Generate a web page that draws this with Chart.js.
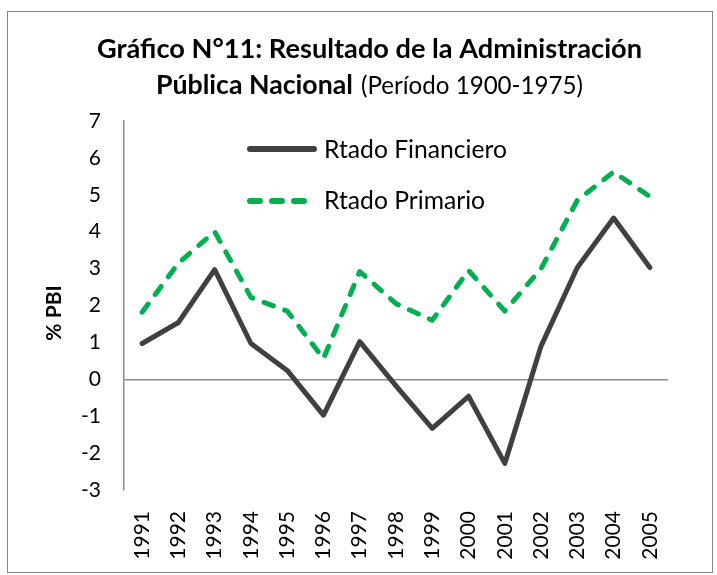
<!DOCTYPE html>
<html>
<head>
<meta charset="utf-8">
<script src="https://cdn.jsdelivr.net/npm/chart.js@4/dist/chart.umd.min.js"></script>
<style>
  html, body { margin: 0; padding: 0; background: #ffffff; }
  #wrap { width: 717px; height: 575px; position: relative; }
</style>
</head>
<body>
<div id="wrap"><canvas id="c" width="717" height="575"></canvas></div>
<script>
const years = ['1991','1992','1993','1994','1995','1996','1997','1998','1999','2000','2001','2002','2003','2004','2005'];
const financiero = [0.97, 1.54, 2.97, 0.97, 0.24, -0.97, 1.02, -0.18, -1.33, -0.46, -2.28, 0.9, 3.03, 4.37, 3.03];
const primario = [1.82, 3.15, 4.0, 2.22, 1.85, 0.56, 2.92, 2.05, 1.6, 2.95, 1.85, 3.0, 4.85, 5.62, 4.95];
const yMin = -3, yMax = 7, yStep = 1;
const titleLine1 = 'Gráfico N°11: Resultado de la Administración';
const titleLine2Bold = 'Pública Nacional';
const titleLine2Reg = '(Período 1900-1975)';
const yTitle = '% PBI';
const seriesNames = ['Rtado Financiero', 'Rtado Primario'];

const FAM = 'Lato, "Open Sans", sans-serif';

function fitSize(ctx, text, weight, target) {
  ctx.font = weight + ' 100px ' + FAM;
  return 100 * target / ctx.measureText(text).width;
}

const decor = {
  id: 'decor',
  afterDraw(chart) {
    const ctx = chart.ctx;
    ctx.save();
    // outer border
    ctx.strokeStyle = '#878787';
    ctx.lineWidth = 1;
    ctx.strokeRect(7.5, 11.5, 705, 561);

    ctx.fillStyle = '#000000';
    ctx.textBaseline = 'alphabetic';
    // title line 1
    let s = fitSize(ctx, titleLine1, 'bold', 545);
    ctx.font = 'bold ' + s.toFixed(2) + 'px ' + FAM;
    ctx.textAlign = 'left';
    ctx.fillText(titleLine1, 97, 58);
    // title line 2
    const sb = fitSize(ctx, titleLine2Bold, 'bold', 197);
    ctx.font = 'bold ' + sb.toFixed(2) + 'px ' + FAM;
    ctx.fillText(titleLine2Bold, 156, 93.5);
    const sr = fitSize(ctx, titleLine2Reg, 'normal', 222);
    ctx.font = 'normal ' + sr.toFixed(2) + 'px ' + FAM;
    ctx.fillText(titleLine2Reg, 361, 93.5);

    // y axis title
    ctx.save();
    ctx.translate(54.5, 313);
    ctx.rotate(-Math.PI / 2);
    ctx.font = 'bold 21px ' + FAM;
    ctx.textAlign = 'center';
    ctx.textBaseline = 'middle';
    ctx.fillText(yTitle, 0, 0);
    ctx.restore();

    // legend
    const rows = [149, 201];
    const baselines = [157.5, 208.5];
    chart.data.datasets.forEach((ds, i) => {
      ctx.save();
      ctx.strokeStyle = ds.borderColor;
      ctx.lineWidth = 6;
      ctx.lineCap = 'round';
      ctx.setLineDash(ds.borderDash || []);
      ctx.beginPath();
      ctx.moveTo(250, rows[i]);
      ctx.lineTo(i === 0 ? 314 : 306, rows[i]);
      ctx.stroke();
      ctx.restore();
      const ls = fitSize(ctx, seriesNames[0], 'normal', 183);
      ctx.font = 'normal ' + ls.toFixed(2) + 'px ' + FAM;
      ctx.textAlign = 'left';
      ctx.fillStyle = '#000000';
      ctx.fillText(ds.label, 324, baselines[i]);
    });
    ctx.restore();
  }
};

new Chart(document.getElementById('c'), {
  type: 'line',
  data: {
    labels: years,
    datasets: [
      {
        label: seriesNames[0],
        data: financiero,
        borderColor: '#404040',
        borderWidth: 5,
        pointRadius: 0,
        tension: 0,
        borderCapStyle: 'round',
        borderJoinStyle: 'round',
        fill: false
      },
      {
        label: seriesNames[1],
        data: primario,
        borderColor: '#00B050',
        borderWidth: 5,
        borderDash: [10, 12],
        pointRadius: 0,
        tension: 0,
        borderCapStyle: 'round',
        borderJoinStyle: 'round',
        fill: false
      }
    ]
  },
  options: {
    responsive: false,
    animation: false,
    devicePixelRatio: 1,
    layout: { padding: { left: 0, top: 121, right: 49, bottom: 0 } },
    plugins: { legend: { display: false }, title: { display: false }, tooltip: { enabled: false } },
    scales: {
      x: {
        offset: true,
        grid: { display: false, drawTicks: false },
        border: { display: false },
        ticks: {
          color: '#000000',
          font: { family: FAM, size: 21 },
          maxRotation: 90,
          minRotation: 90,
          padding: 21,
          autoSkip: false
        },
        afterFit(scale) { scale.height = 85; }
      },
      y: {
        min: yMin,
        max: yMax,
        grid: {
          drawTicks: false,
          color: (c) => (c.tick && c.tick.value === 0 ? '#8c8c8c' : 'rgba(0,0,0,0)'),
          lineWidth: 1.5
        },
        border: { display: true, color: '#8c8c8c', width: 1.5 },
        ticks: {
          stepSize: yStep,
          color: '#000000',
          font: { family: FAM, size: 21 },
          padding: 23
        },
        afterFit(scale) { scale.width = 124; }
      }
    }
  },
  plugins: [decor]
});
</script>
</body>
</html>
